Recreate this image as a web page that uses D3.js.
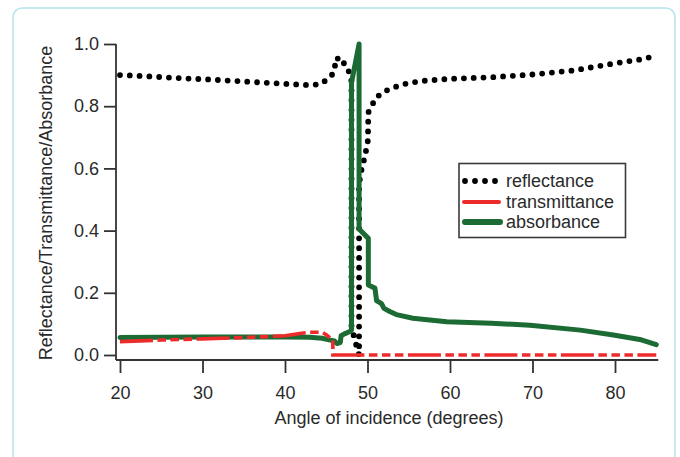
<!DOCTYPE html>
<html>
<head>
<meta charset="utf-8">
<script src="https://cdn.jsdelivr.net/npm/d3@7"></script>
<style>
  body { margin: 0; background: #fff; }
  svg text { font-family: "Liberation Sans", Arial, sans-serif; fill: #2a2a2a; }
</style>
</head>
<body>
<script>
// reflectance (dotted black)
var reflAngle = [20, 22, 24, 26, 28, 30, 32, 34, 36, 38, 40, 42, 43, 44, 44.6, 45.05, 45.66, 46.06, 46.06, 47.0, 47.27, 47.8,
  48.06, 48.06, 48.5, 48.98, 48.98, 49.3, 49.7, 50.05, 50.1, 50.5, 51.0, 51.8, 52.5, 53.5, 55, 57, 60, 65, 70, 75, 80, 83, 85];
var reflValue = [0.900, 0.898, 0.895, 0.892, 0.889, 0.887, 0.884, 0.881, 0.878, 0.875, 0.872, 0.869, 0.868, 0.870, 0.876, 0.886, 0.899, 0.920, 0.953, 0.953, 0.924, 0.91,
  0.88, 0.09, 0.045, 0.0, 0.55, 0.60, 0.64, 0.69, 0.78, 0.80, 0.827, 0.843, 0.853, 0.863, 0.875, 0.882, 0.888, 0.893, 0.902, 0.915, 0.938, 0.950, 0.962];

// transmittance (dash-dot red)
var transAngle = [20, 25, 30, 35, 40, 42, 43, 44.5, 45.0, 45.5, 45.8, 45.8, 85];
var transValue = [0.043, 0.048, 0.052, 0.056, 0.062, 0.070, 0.073, 0.073, 0.065, 0.055, 0.050, 0.0, 0.0];

// absorbance (thick green)
var absAngle = [20, 25, 30, 35, 40, 43, 44.5, 45.5, 46.0, 46.3, 46.7, 46.8, 47.2, 47.8, 48.06, 48.06, 48.98, 48.98, 50.1, 50.1, 50.9, 51.1,
  51.7, 52.0, 52.7, 53.5, 55.5, 59.6, 65, 69.7, 75.8, 79.8, 83, 85];
var absValue = [0.056, 0.057, 0.058, 0.058, 0.058, 0.057, 0.054, 0.048, 0.045, 0.037, 0.040, 0.062, 0.068, 0.075, 0.08, 0.876, 1.0, 0.405, 0.375, 0.225, 0.215, 0.175,
  0.165, 0.150, 0.140, 0.130, 0.118, 0.107, 0.102, 0.096, 0.080, 0.064, 0.050, 0.033];

var xTicks = [20, 30, 40, 50, 60, 70, 80];
var yTicks = [0.0, 0.2, 0.4, 0.6, 0.8, 1.0];
var legendNames = ["reflectance", "transmittance", "absorbance"];

var width = 680, height = 457;

var svg = d3.select("body").append("svg")
    .attr("width", width)
    .attr("height", height);

// frame
svg.append("rect")
    .attr("x", 13).attr("y", 8)
    .attr("width", 662).attr("height", 470)
    .attr("rx", 9)
    .style("fill", "none")
    .style("stroke", "#b5e3ee")
    .style("stroke-width", 1.5);

var x = d3.scaleLinear().domain([20, 85]).range([120, 656.25]);
var y = d3.scaleLinear().domain([0, 1]).range([355, 44]);

var axisColor = "#333";

// y axis
var yAxis = svg.append("g")
    .attr("transform", "translate(116,0)")
    .call(d3.axisLeft(y).tickValues(yTicks).tickSize(12).tickPadding(5).tickFormat(d3.format(".1f")));
yAxis.select(".domain").remove();
yAxis.append("line")
    .attr("x1", 0).attr("x2", 0)
    .attr("y1", y(1)).attr("y2", 360)
    .style("stroke", axisColor).style("stroke-width", 1.8);

// x axis
var xAxis = svg.append("g")
    .attr("transform", "translate(0,360)")
    .call(d3.axisBottom(x).tickValues(xTicks).tickSize(13).tickPadding(13));
xAxis.select(".domain").remove();
xAxis.append("line")
    .attr("x1", 116).attr("x2", x(85) + 2)
    .attr("y1", 0).attr("y2", 0)
    .style("stroke", axisColor).style("stroke-width", 1.8);

svg.selectAll(".tick line").style("stroke", axisColor).style("stroke-width", 1.8);
svg.selectAll(".tick text").style("font-size", "18px").style("fill", "#2a2a2a");

// axis titles
svg.append("text")
    .attr("x", 389).attr("y", 424)
    .attr("text-anchor", "middle")
    .style("font-size", "18px")
    .text("Angle of incidence (degrees)");

svg.append("text")
    .attr("transform", "translate(52,203) rotate(-90)")
    .attr("text-anchor", "middle")
    .style("font-size", "18px")
    .text("Reflectance/Transmittance/Absorbance");

var line = d3.line()
    .x(function(d) { return x(d[0]); })
    .y(function(d) { return y(d[1]); });

var refl = d3.zip(reflAngle, reflValue);
var trans = d3.zip(transAngle, transValue);
var abs = d3.zip(absAngle, absValue);

svg.append("path")
    .datum(refl)
    .attr("d", line)
    .style("fill", "none")
    .style("stroke", "#000")
    .style("stroke-width", 5.8)
    .style("stroke-linecap", "round")
    .style("stroke-dasharray", "0 9.8");

svg.append("path")
    .datum(abs)
    .attr("d", line)
    .style("fill", "none")
    .style("stroke", "#1c6b34")
    .style("stroke-width", 5)
    .style("stroke-linejoin", "round")
    .style("stroke-linecap", "round");

svg.append("path")
    .datum(trans)
    .attr("d", line)
    .style("fill", "none")
    .style("stroke", "#ee2b2b")
    .style("stroke-width", 3.6)
    .style("stroke-dasharray", "33 4.5 8.5 4.5 8.5 4.5 8.5 4.5");

// legend
var legend = svg.append("g");
legend.append("rect")
    .attr("x", 459).attr("y", 163.5)
    .attr("width", 166.5).attr("height", 74)
    .style("fill", "#fff")
    .style("stroke", "#3a3a3a")
    .style("stroke-width", 1.6);

var rowY = [181, 202, 222];

legend.append("line")
    .attr("x1", 465).attr("x2", 496).attr("y1", rowY[0]).attr("y2", rowY[0])
    .style("stroke", "#000").style("stroke-width", 5.8)
    .style("stroke-linecap", "round").style("stroke-dasharray", "0 10");
legend.append("line")
    .attr("x1", 464).attr("x2", 499).attr("y1", rowY[1]).attr("y2", rowY[1])
    .style("stroke", "#ee2b2b").style("stroke-width", 4)
    .style("stroke-linecap", "round");
legend.append("line")
    .attr("x1", 465).attr("x2", 500).attr("y1", rowY[2]).attr("y2", rowY[2])
    .style("stroke", "#1c6b34").style("stroke-width", 6)
    .style("stroke-linecap", "round");

legend.selectAll("text.lbl")
    .data(legendNames)
    .enter().append("text")
    .attr("class", "lbl")
    .attr("x", 506)
    .attr("y", function(d, i) { return rowY[i]; })
    .attr("dy", "0.35em")
    .style("font-size", "18px")
    .text(function(d) { return d; });
</script>
</body>
</html>
